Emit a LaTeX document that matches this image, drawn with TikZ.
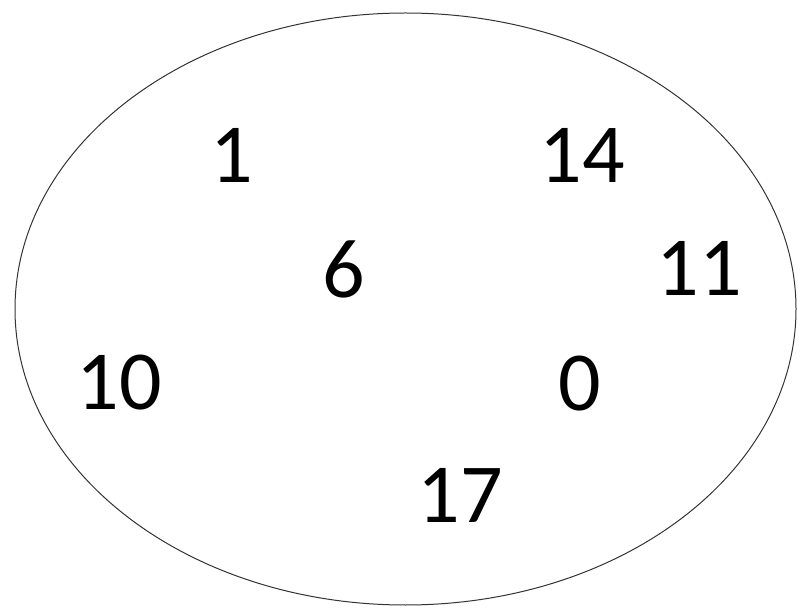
\documentclass[tikz,border=0pt]{standalone}
\usepackage{fontspec}
\setmainfont{Carlito}
\begin{document}
\begin{tikzpicture}[x=1pt,y=-1pt,
  num/.style={font=\fontsize{84}{92}\selectfont, inner sep=0pt, anchor=center}]
\useasboundingbox (0,0) rectangle (798,609);
\draw[line width=1pt, black!80] (405.5,309) ellipse [x radius=390.5, y radius=296];
\node[num] (n1) at (232,155) {1};
\node[num] (n14) at (582,155) {14};
\node[num] (n6) at (344,269) {6};
\node[num] (n11) at (699,268) {11};
\node[num] (n10) at (119,383) {10};
\node[num] (n0) at (580,384) {0};
\node[num] (n17) at (460,495) {17};
\end{tikzpicture}
\end{document}
